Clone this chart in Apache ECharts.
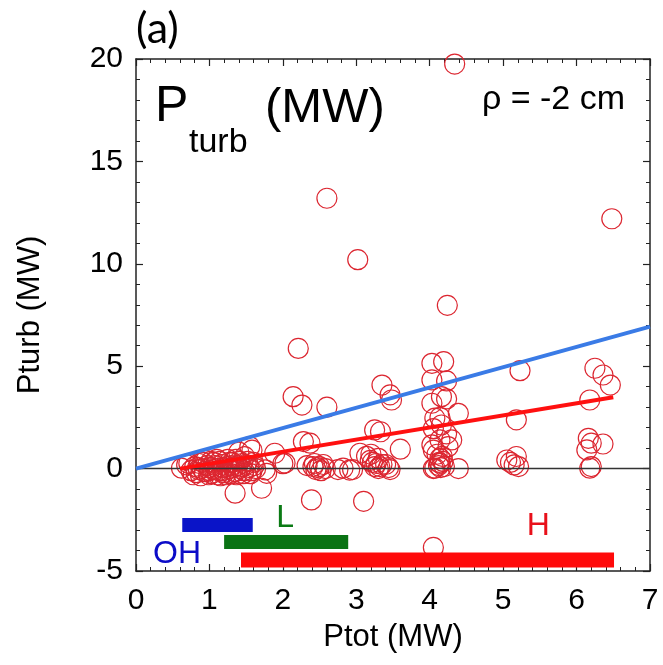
<!DOCTYPE html>
<html>
<head>
<meta charset="utf-8">
<script src="https://cdn.jsdelivr.net/npm/echarts@6/dist/echarts.min.js"></script>
<style>
html,body{margin:0;padding:0;background:#fff;}
#chart{width:663px;height:665px;}
</style>
</head>
<body>
<div id="chart"></div>
<script>
// ---- data ----
var xTicks = [0, 1, 2, 3, 4, 5, 6, 7];
var yTicks = [-5, 0, 5, 10, 15, 20];

// P_turb (MW) vs P_tot (MW) : open circles
var points = [
  [0.62,0.02],[0.69,0.18],[0.75,-0.1],[0.80,0.1],[0.82,-0.2],[0.86,0.25],[0.90,0.0],[0.93,-0.15],
  [0.97,0.15],[1.00,0.05],[1.03,-0.25],[1.06,0.3],[1.10,0.0],[1.13,-0.1],[1.17,0.2],[1.20,-0.2],
  [1.24,0.1],[1.28,0.0],[1.31,0.3],[1.35,-0.15],[1.38,0.15],[1.42,0.0],[1.46,-0.25],[1.48,0.58],
  [1.50,0.2],[1.54,0.05],[1.55,1.07],[1.58,-0.1],[1.60,0.3],[1.63,0.0],[1.40,0.8],[1.25,0.45],
  [0.95,0.4],[1.15,-0.35],[1.76,-0.06],[1.89,0.75],[2.00,0.24],[1.58,0.9],[1.78,-0.23],
  [1.71,-0.96],[1.35,-1.2],[2.03,0.27],
  [0.72,0.25],[0.78,-0.3],[0.84,0.05],[0.88,-0.35],[0.91,0.3],[0.99,-0.3],[1.02,0.35],[1.05,-0.05],
  [1.08,0.15],[1.11,-0.3],[1.14,0.35],[1.19,0.05],[1.22,-0.3],[1.27,0.3],[1.29,-0.25],[1.33,0.05],
  [1.37,-0.3],[1.41,0.35],[1.44,0.1],[1.47,-0.1],[1.52,0.35],[1.56,-0.25],[1.61,0.15],[1.36,0.45],
  [1.10,0.45],[0.85,-0.05],[1.18,-0.1],[1.30,0.15],[1.45,0.25],[1.00,-0.1],
  [2.14,3.51],[2.26,3.1],[2.60,3.0],[2.21,5.87],[2.60,13.2],[2.37,1.24],[2.28,1.32],
  [2.33,0.15],[2.41,0.1],[2.50,0.1],[2.45,-0.05],[2.55,0.2],[2.58,0.0],[2.39,-1.53],
  [2.82,0.02],[2.91,-0.07],[2.75,-0.05],[2.95,-0.05],[2.43,0.25],[2.52,-0.1],[2.47,0.05],
  [3.02,10.2],[3.35,4.08],[3.46,3.6],[3.48,3.35],[3.25,1.89],[3.33,1.8],[3.05,0.75],[3.14,0.6],
  [3.19,0.4],[3.22,0.3],[3.25,0.1],[3.30,0.0],[3.35,0.2],[3.40,0.2],[3.44,0.05],[3.46,-0.05],
  [3.60,0.95],[3.10,-1.6],[3.20,0.7],[3.30,0.5],[3.27,0.25],[3.32,0.1],
  [4.24,7.97],[4.03,5.14],[4.19,5.22],[4.03,4.33],[4.23,4.28],[4.16,3.51],[4.03,3.19],[4.23,3.4],
  [4.39,2.7],[4.07,2.46],[4.14,2.5],[4.16,2.13],[4.05,1.95],[4.23,1.7],[4.14,1.4],[4.30,1.4],
  [4.03,1.16],[4.25,1.07],[4.05,0.9],[4.17,0.6],[4.14,0.5],[4.14,0.26],[4.07,0.02],[4.20,0.1],
  [4.39,0.0],[4.05,0.0],[4.12,0.15],[4.18,0.35],[4.10,0.7],[4.15,0.05],[4.13,0.3],
  [4.34,19.75],[4.05,-3.85],
  [5.23,4.78],[5.18,2.38],[5.05,0.42],[5.18,0.59],[5.21,0.1],[5.15,0.18],[5.10,0.3],
  [6.25,4.9],[6.36,4.57],[6.46,4.08],[6.18,3.35],[6.16,1.48],[6.20,1.24],[6.36,1.2],[6.14,0.91],
  [6.18,0.02],[6.20,0.1],[6.48,12.2]
];

// fit lines
var blueFit = [[0, 0], [7, 6.93]];
var redFit = [[0.6, 0.0], [6.5, 3.48]];
var zeroLine = [[0, 0], [7, 0]];

// regime ranges (OH, L, H): [xStart, xEnd, y]
var regimeNames = ['OH', 'L', 'H'];
var regimeRanges = [[0.63, 1.59, -2.75], [1.20, 2.89, -3.58], [1.43, 6.51, -4.46]];
var regimeLabelPos = [[0.56, -4.16], [2.03, -2.40], [5.48, -2.80]];

// ---- styles ----
var regimeBarColors = ['#0a14c8', '#0a7314', '#ff0a0a'];
var regimeTextColors = ['#0c0cc8', '#0a7a14', '#e8101a'];
var regimeBarWidth = [14, 14, 15];

var chart = echarts.init(document.getElementById('chart'), null, {renderer: 'canvas'});

var FONT = '"Liberation Sans", Arial, Helvetica, sans-serif';

var series = [];
series.push({
  type: 'scatter', xAxisIndex: 0, yAxisIndex: 0, z: 2,
  data: points, symbol: 'circle', symbolSize: 20,
  itemStyle: {color: 'rgba(0,0,0,0)', borderColor: '#dc2630', borderWidth: 1.2, opacity: 1},
  emphasis: {disabled: true}, silent: true
});
series.push({
  type: 'line', data: zeroLine, symbol: 'none', z: 3, silent: true,
  lineStyle: {color: '#333', width: 1.5}
});
series.push({
  type: 'line', data: redFit, symbol: 'none', z: 4, silent: true,
  lineStyle: {color: '#ff1010', width: 4}
});
series.push({
  type: 'line', data: blueFit, symbol: 'none', z: 5, silent: true,
  lineStyle: {color: '#3a7be6', width: 4}
});
regimeRanges.forEach(function (r, i) {
  series.push({
    type: 'line', data: [[r[0], r[2]], [r[1], r[2]]], symbol: 'none', z: 6, silent: true,
    lineStyle: {color: regimeBarColors[i], width: regimeBarWidth[i], cap: 'butt'}
  });
});
series.push({
  type: 'scatter', z: 7, silent: true, symbolSize: 0,
  itemStyle: {opacity: 1},
  data: regimeNames.map(function (n, i) {
    return {name: n, value: regimeLabelPos[i],
      label: {color: regimeTextColors[i]}};
  }),
  label: {show: true, position: 'inside', formatter: '{b}', fontSize: 32, fontFamily: FONT,
    textBorderWidth: 0, textShadowBlur: 0, opacity: 1}
});

var axisCommon = {
  axisLine: {show: true, onZero: false, lineStyle: {color: '#222', width: 1.5}},
  axisTick: {show: true, inside: true, length: 7, lineStyle: {color: '#222', width: 1.2}},
  minorTick: {show: true, splitNumber: 5, length: 4, lineStyle: {color: '#222', width: 1}},
  splitLine: {show: false}
};

var option = {
  animation: false,
  backgroundColor: '#fff',
  grid: {left: 136, right: 13, top: 59, bottom: 94, containLabel: false},
  xAxis: [
    Object.assign({}, axisCommon, {
      type: 'value', min: xTicks[0], max: xTicks[xTicks.length - 1], interval: 1, position: 'bottom',
      axisLabel: {color: '#000', fontSize: 30, fontFamily: FONT, margin: 15},
      name: 'Ptot (MW)', nameLocation: 'middle', nameGap: 51,
      nameTextStyle: {color: '#000', fontSize: 31, fontFamily: FONT}
    }),
    Object.assign({}, axisCommon, {
      type: 'value', min: xTicks[0], max: xTicks[xTicks.length - 1], interval: 1, position: 'top',
      axisLabel: {show: false}
    })
  ],
  yAxis: [
    Object.assign({}, axisCommon, {
      type: 'value', min: yTicks[0], max: yTicks[yTicks.length - 1], interval: 5, position: 'left',
      axisLabel: {color: '#000', fontSize: 30, fontFamily: FONT, margin: 13},
      name: 'Pturb (MW)', nameLocation: 'middle', nameGap: 90,
      nameTextStyle: {color: '#000', fontSize: 31, fontFamily: FONT}
    }),
    Object.assign({}, axisCommon, {
      type: 'value', min: yTicks[0], max: yTicks[yTicks.length - 1], interval: 5, position: 'right',
      axisLabel: {show: false}
    })
  ],
  series: series,
  graphic: [
    {type: 'text', left: 136, top: 8, style: {text: '(a)', fontSize: 43, fontFamily: 'Lato, "Open Sans", sans-serif', fill: '#000'}},
    {type: 'text', x: 155, y: 107, style: {text: 'P', fontSize: 50, fontFamily: FONT, fill: '#000', verticalAlign: 'middle'}},
    {type: 'text', x: 189, y: 143, style: {text: 'turb', fontSize: 34, fontFamily: FONT, fill: '#000', verticalAlign: 'middle'}},
    {type: 'text', x: 265, y: 108, style: {text: '(MW)', fontSize: 49, fontFamily: FONT, fill: '#000', verticalAlign: 'middle'}},
    {type: 'text', x: 625, y: 100, style: {text: 'ρ = -2 cm', fontSize: 34, fontFamily: FONT, fill: '#000', align: 'right', verticalAlign: 'middle'}}
  ]
};
chart.setOption(option);
</script>
</body>
</html>
